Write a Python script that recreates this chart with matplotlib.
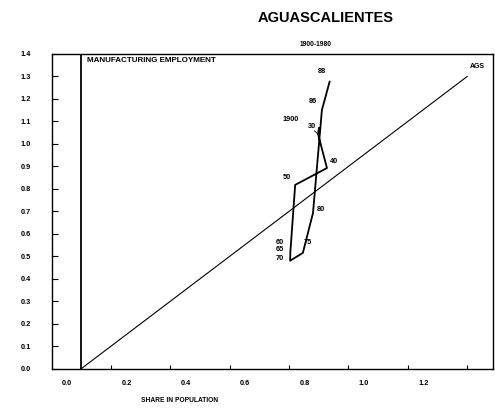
import matplotlib
matplotlib.use("Agg")
import matplotlib.pyplot as plt
import matplotlib.transforms as mtransforms
import numpy as np

# trajectory of Aguascalientes: share in population vs share in manufacturing employment
years = ["1900", "30", "40", "50", "60", "65", "70", "75", "80", "86", "88"]
pop_share = [0.801, 0.798, 0.828, 0.721, 0.707, 0.705, 0.704, 0.747, 0.781, 0.811, 0.837]
emp_share = [1.071, 1.044, 0.893, 0.818, 0.560, 0.524, 0.481, 0.516, 0.693, 1.151, 1.277]

# where each year label sits (centre, data units)
lab_x = [0.707, 0.778, 0.852, 0.694, 0.670, 0.670, 0.670, 0.764, 0.808, 0.781, 0.811]
lab_y = [1.107, 1.076, 0.920, 0.853, 0.564, 0.529, 0.493, 0.560, 0.707, 1.187, 1.320]

xticks_major = [0.0, 0.2, 0.4, 0.6, 0.8, 1.0, 1.2]
yticks = [round(0.1 * i, 1) for i in range(15)]

plt.rcParams['font.family'] = ['Liberation Sans', 'DejaVu Sans']
plt.rcParams['font.weight'] = 'bold'

fig = plt.figure(figsize=(4.95, 4.09), dpi=100)
ax = fig.add_axes([0.105, 0.098, 0.891, 0.770])

ax.set_xlim(-0.0976, 1.387)
ax.set_ylim(0, 1.4)

# 45 degree line and the y axis at x=0
ax.plot([0, 1.3], [0, 1.3], color='black', lw=0.8)
ax.axvline(0, color='black', lw=1.3)
ax.text(1.335, 1.33, "AGS", fontsize=5, ha='center', va='bottom')

ax.plot(pop_share, emp_share, color='black', lw=1.3)
for i, yr in enumerate(years):
    ax.text(lab_x[i], lab_y[i], yr, fontsize=5.3, ha='center', va='center')
# small leader for the 1930 label
ax.plot([pop_share[1] - 0.012, pop_share[1]], [emp_share[1] + 0.014, emp_share[1]],
        color='black', lw=0.6)

# ticks
ax.set_xticks(np.arange(0.1, 1.35, 0.1), minor=True)
ax.set_xticks(xticks_major)
ax.set_xticklabels([f"{v:.1f}" for v in xticks_major], fontsize=5.3)
ax.tick_params(axis='x', which='both', direction='in', length=3, width=0.8, pad=8)
ax.tick_params(axis='x', which='major', length=0)
offset = mtransforms.ScaledTranslation(-0.14, 0, fig.dpi_scale_trans)
for lab in ax.get_xticklabels():
    lab.set_transform(lab.get_transform() + offset)

ax.set_yticks(yticks)
ax.set_yticklabels([f"{v:.1f}" for v in yticks], fontsize=5.3)
ax.tick_params(axis='y', direction='in', length=4, width=0.8, pad=15)

for s in ax.spines.values():
    s.set_linewidth(1.0)

fig.text(0.657, 0.955, "AGUASCALIENTES", fontsize=10.5, ha='center', va='center', weight='bold')
fig.text(0.637, 0.890, "1900-1980", fontsize=4.8, ha='center', va='center')
ax.text(0.02, 1.37, "MANUFACTURING EMPLOYMENT", fontsize=5.8, ha='left', va='center')
fig.text(0.285, 0.022, "SHARE IN POPULATION", fontsize=4.8, ha='left', va='center')

fig.savefig("out.png", dpi=100)
